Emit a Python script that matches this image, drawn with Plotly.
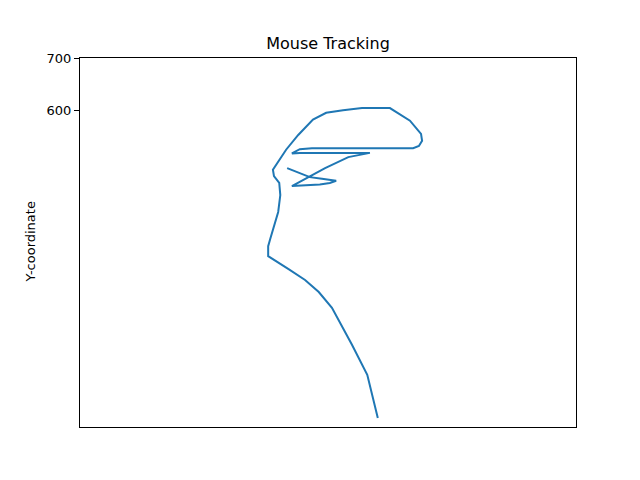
import plotly.graph_objects as go

# Mouse path (x in arbitrary screen units, y in chart units)
x_vals = [393, 414, 436, 459, 486, 474, 455, 402, 465, 509, 550, 417, 402, 417, 440,
          632, 643, 649, 647, 626, 588, 535, 499, 467, 442, 414, 391, 366, 368, 378,
          380, 376, 368, 361, 357, 357, 395, 427, 453, 478, 516, 545, 565]
y_vals = [491, 482, 474, 471, 467, 463, 460, 457, 491, 512, 520, 520, 519, 527, 529,
          529, 533, 543, 556, 581, 605, 605, 601, 596, 583, 554, 526, 488, 476, 463,
          440, 408, 378, 357, 343, 324, 300, 279, 256, 226, 156, 99, 17]
y_ticks = [600, 700]

fig = go.Figure()
fig.add_trace(go.Scatter(x=x_vals, y=y_vals, mode="lines",
                         line=dict(color="#1f77b4", width=2), showlegend=False))

fig.update_layout(
    width=640, height=480,
    margin=dict(l=80, r=64, t=58, b=53, autoexpand=False),
    paper_bgcolor="white", plot_bgcolor="white",
    font=dict(family="DejaVu Sans", size=13, color="black"),
    title=dict(text="Mouse Tracking", x=0.5, xref="paper", xanchor="center",
               y=1 - 43 / 480, yref="container", yanchor="middle",
               font=dict(size=16, color="black")),
    xaxis=dict(range=[0, 941], showticklabels=False, ticks="", showgrid=False,
               zeroline=False, showline=True, mirror=True, linecolor="black", linewidth=1),
    yaxis=dict(range=[0, 700], tickvals=y_ticks, ticks="outside", ticklen=5,
               tickcolor="black", tickwidth=1, showgrid=False, zeroline=False,
               showline=True, mirror=True, linecolor="black", linewidth=1,
               tickfont=dict(size=13, color="black")),
    annotations=[dict(text="Y-coordinate", textangle=-90, xref="paper", yref="paper",
                      x=-50 / 496, y=0.5, xanchor="center", yanchor="middle",
                      showarrow=False, font=dict(size=13, color="black"))],
)

fig.write_html("out.html")
